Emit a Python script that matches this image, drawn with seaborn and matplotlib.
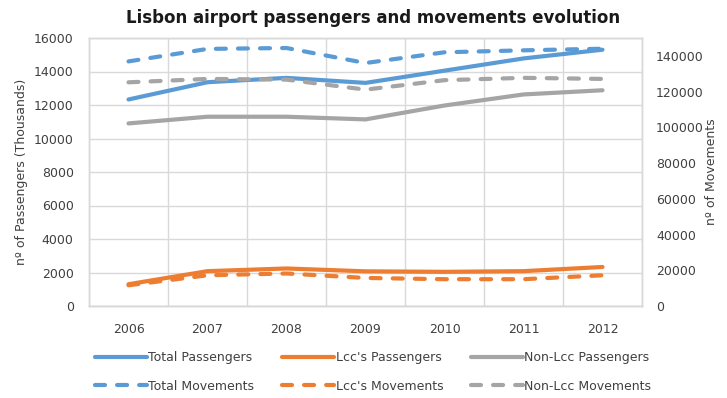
import numpy as np
import pandas as pd
import matplotlib
matplotlib.use("Agg")
import matplotlib.pyplot as plt
import seaborn as sns

years = ["2006", "2007", "2008", "2009", "2010", "2011", "2012"]

# Passengers (thousands) - left axis
total_passengers = [12330, 13360, 13620, 13320, 14050, 14780, 15300]
lcc_passengers = [1300, 2080, 2240, 2070, 2040, 2080, 2330]
nonlcc_passengers = [10900, 11300, 11300, 11140, 11970, 12630, 12880]

# Movements - right axis
total_movements = [136900, 143900, 144400, 136000, 142000, 143100, 144000]
lcc_movements = [11600, 17200, 18200, 15700, 15000, 15000, 17200]
nonlcc_movements = [125200, 127100, 126700, 121100, 126400, 127700, 127100]

BLUE = "#5B9BD5"
ORANGE = "#ED7D31"
GRAY = "#A5A5A5"
GRID = "#D9D9D9"
TXT = "#404040"

sns.set_style("white")
plt.rcParams["font.family"] = ["DejaVu Sans"]

fig = plt.figure(figsize=(7.27, 3.98), dpi=100)
ax = fig.add_axes([89/727, 1-306/398, (642-89)/727, (306-38)/398])
ax2 = ax.twinx()

x = np.arange(len(years))
df = pd.DataFrame({
    "x": x,
    "tp": total_passengers, "lp": lcc_passengers, "np": nonlcc_passengers,
    "tm": total_movements, "lm": lcc_movements, "nm": nonlcc_movements,
})

LW = 3.0
dash = (0, (2.4, 2.9))

def draw(axis, col, color, dashed, label):
    n0 = len(axis.lines)
    kw = dict(linestyle=dash, dash_capstyle="round") if dashed else dict(solid_capstyle="round")
    sns.lineplot(data=df, x="x", y=col, ax=axis, color=color, lw=LW, label=label,
                 legend=False, **kw)
    return axis.lines[n0]

h_tp = draw(ax, "tp", BLUE, False, "Total Passengers")
h_lp = draw(ax, "lp", ORANGE, False, "Lcc's Passengers")
h_np = draw(ax, "np", GRAY, False, "Non-Lcc Passengers")
h_tm = draw(ax2, "tm", BLUE, True, "Total Movements")
h_lm = draw(ax2, "lm", ORANGE, True, "Lcc's Movements")
h_nm = draw(ax2, "nm", GRAY, True, "Non-Lcc Movements")

ax.set_xlim(-0.5, len(years) - 0.5)
ax.set_ylim(0, 16000)
ax2.set_ylim(0, 150000)
ax.set_yticks(np.arange(0, 16001, 2000))
ax2.set_yticks(np.arange(0, 140001, 20000))
ax.set_xticks(x)
ax.set_xticklabels(years)
ax.set_xticks(np.arange(-0.5, len(years), 1.0), minor=True)

ax.grid(True, axis="y", color=GRID, lw=1.0)
ax.grid(True, axis="x", which="minor", color=GRID, lw=1.0)
ax.grid(False, axis="x", which="major")
ax2.grid(False)
ax.set_axisbelow(True)

for a in (ax, ax2):
    for s in a.spines.values():
        s.set_color(GRID)
        s.set_linewidth(1.0)
ax.spines["bottom"].set_color("#BFBFBF")

ax.tick_params(axis="both", which="both", length=0, labelsize=9, colors=TXT)
ax.tick_params(axis="y", pad=11)
ax.tick_params(axis="x", pad=12)
ax2.tick_params(axis="y", length=0, labelsize=9, colors=TXT, pad=10)

ax.set_xlabel("")
ax.set_ylabel("nº of Passengers (Thousands)", fontsize=9, color=TXT, labelpad=4)
ax2.set_ylabel("nº of Movements", fontsize=9, color=TXT, labelpad=1)

fig.text(373/727, 1-18/398, "Lisbon airport passengers and movements evolution",
         ha="center", va="center", fontsize=12, fontweight="bold", color="#1a1a1a")

leg = fig.legend([h_tp, h_tm, h_lp, h_lm, h_np, h_nm],
                 ["Total Passengers", "Total Movements", "Lcc's Passengers",
                  "Lcc's Movements", "Non-Lcc Passengers", "Non-Lcc Movements"],
                 ncol=3, loc="center", bbox_to_anchor=(373/727, 1-372/398),
                 frameon=False, fontsize=9, handlelength=4.2, handletextpad=0.1,
                 columnspacing=2.2, labelspacing=1.2)
for t in leg.get_texts():
    t.set_color(TXT)

fig.savefig("out.png", dpi=100)
